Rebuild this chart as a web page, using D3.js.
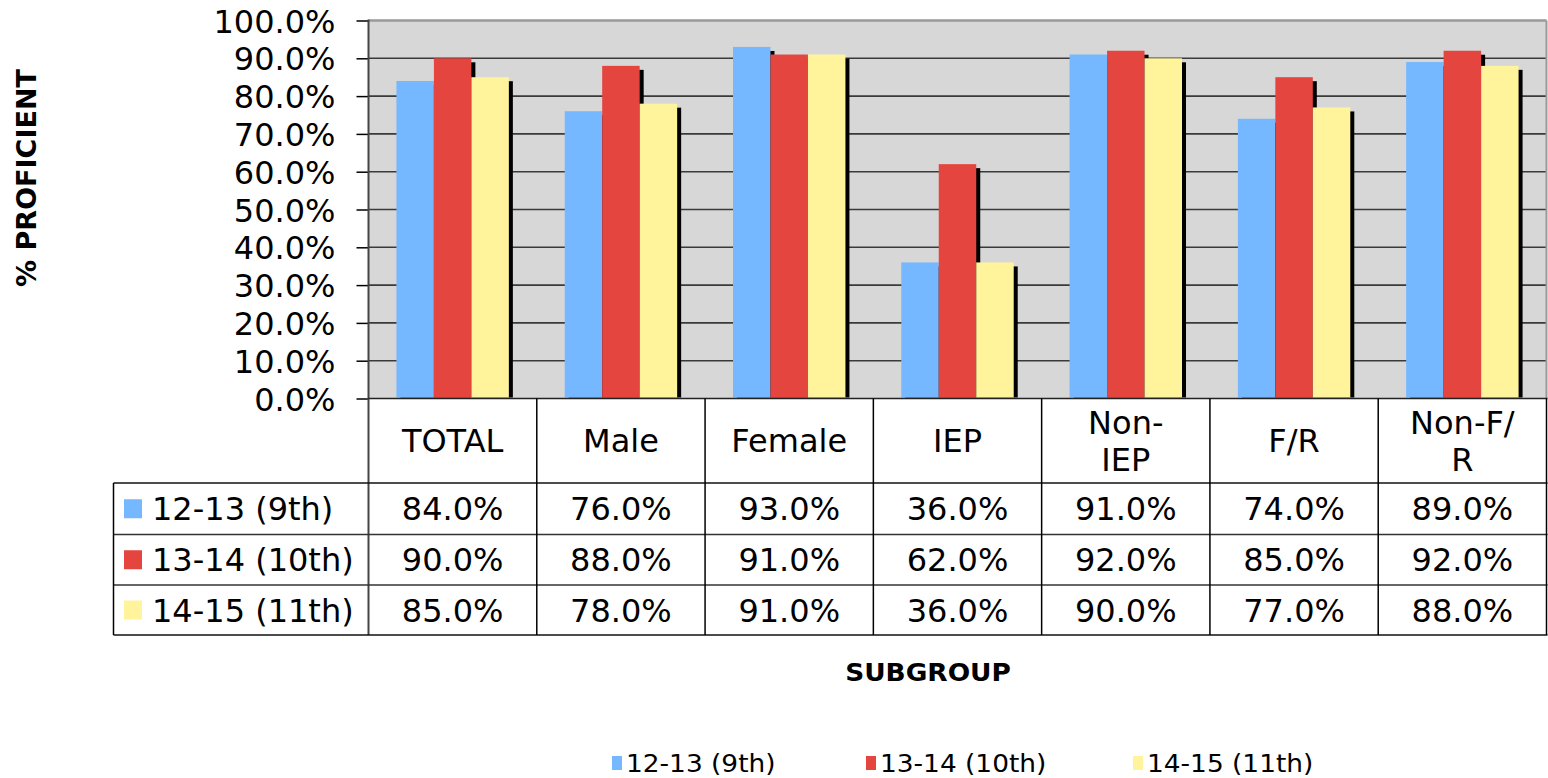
<!DOCTYPE html>
<html>
<head>
<meta charset="utf-8">
<script src="https://cdn.jsdelivr.net/npm/d3@7"></script>
<style>
  html, body { margin: 0; padding: 0; background: #fff; }
  svg { display: block; font-family: "DejaVu Sans", Verdana, sans-serif; }
</style>
</head>
<body>
<svg id="chart" width="1548" height="778"></svg>
<script>
// ---- data ----
const categories = ["TOTAL", "Male", "Female", "IEP", "Non-IEP", "F/R", "Non-F/R"];
const categoryLabelLines = [["TOTAL"], ["Male"], ["Female"], ["IEP"], ["Non-", "IEP"], ["F/R"], ["Non-F/", "R"]];
const seriesNames = ["12-13 (9th)", "13-14 (10th)", "14-15 (11th)"];
const series1213 = [84.0, 76.0, 93.0, 36.0, 91.0, 74.0, 89.0];
const series1314 = [90.0, 88.0, 91.0, 62.0, 92.0, 85.0, 92.0];
const series1415 = [85.0, 78.0, 91.0, 36.0, 90.0, 77.0, 88.0];
const yTickValues = [0, 10, 20, 30, 40, 50, 60, 70, 80, 90, 100];
const seriesColors = ["#76B8FF", "#E5453F", "#FFF39C"];
const yAxisTitle = "% PROFICIENT";
const xAxisTitle = "SUBGROUP";

const seriesValues = [series1213, series1314, series1415];

// ---- layout ----
const svg = d3.select("#chart");
const plotL = 368.5, plotR = 1546.5, plotT = 20.5, plotB = 398.5;
const tableL = 113.5;
const rowBounds = [398.5, 483, 534.5, 585, 635];
const tableFont = 32;

const x0 = d3.scaleBand().domain(categories).range([plotL, plotR]).paddingInner(0).paddingOuter(0);
const x1 = d3.scaleBand().domain(seriesNames).range([0, x0.bandwidth()]).paddingInner(0).paddingOuter(0.745);
const y = d3.scaleLinear().domain([0, 100]).range([plotB, plotT]);
const fmt = v => v.toFixed(1) + "%";

// plot background
svg.append("rect").attr("x", plotL).attr("y", plotT).attr("width", plotR - plotL).attr("height", plotB - plotT)
  .attr("fill", "#D7D7D7");

// gridlines
svg.append("g").selectAll("line").data(yTickValues.filter(v => v > 0 && v < 100)).join("line")
  .attr("x1", plotL).attr("x2", plotR).attr("y1", d => y(d)).attr("y2", d => y(d))
  .attr("stroke", "#3a3a3a").attr("stroke-width", 1.6);

// plot border top/right
svg.append("line").attr("x1", plotL).attr("x2", plotR).attr("y1", y(100)).attr("y2", y(100))
  .attr("stroke", "#999").attr("stroke-width", 2.5);
svg.append("line").attr("x1", plotR).attr("x2", plotR).attr("y1", plotT).attr("y2", plotB)
  .attr("stroke", "#999").attr("stroke-width", 2);

// clip for shadows
svg.append("clipPath").attr("id", "plotclip").append("rect")
  .attr("x", plotL).attr("y", plotT - 2).attr("width", plotR - plotL).attr("height", plotB - plotT + 1);

// bars with shadows
const barsG = svg.append("g").attr("clip-path", "url(#plotclip)");
categories.forEach((cat, ci) => {
  seriesNames.forEach((s, si) => {
    const v = seriesValues[si][ci];
    const bx = x0(cat) + x1(s);
    const bw = x1.bandwidth();
    barsG.append("rect").attr("x", bx + 4).attr("y", y(v) + 4).attr("width", bw).attr("height", plotB - y(v))
      .attr("fill", "#000");
    barsG.append("rect").attr("x", bx).attr("y", y(v)).attr("width", bw).attr("height", plotB - y(v))
      .attr("fill", seriesColors[si]);
  });
});

// y axis
const yAxis = d3.axisLeft(y).tickValues(yTickValues).tickFormat(fmt).tickSize(12).tickPadding(21);
const yg = svg.append("g").attr("transform", `translate(${plotL},0)`).call(yAxis);
yg.select(".domain").remove();
yg.selectAll(".tick line").attr("stroke", "#000").attr("stroke-width", 1.5);
yg.selectAll(".tick text").attr("font-size", 32).attr("fill", "#000")
  .attr("font-family", "DejaVu Sans, Verdana, sans-serif").attr("dy", "0.36em");

// y axis line (through table)
svg.append("line").attr("x1", plotL).attr("x2", plotL).attr("y1", plotT - 1).attr("y2", rowBounds[4])
  .attr("stroke", "#444").attr("stroke-width", 2);

// ---- data table ----
const tg = svg.append("g");
tg.append("line").attr("x1", plotL).attr("x2", plotR + 1).attr("y1", plotB).attr("y2", plotB)
  .attr("stroke", "#222").attr("stroke-width", 1.5);
[1, 2, 3, 4].forEach(i => {
  tg.append("line").attr("x1", tableL).attr("x2", plotR + 1).attr("y1", rowBounds[i]).attr("y2", rowBounds[i])
    .attr("stroke", i === 1 || i === 4 ? "#111" : "#333").attr("stroke-width", 1.5);
});
categories.forEach((cat, ci) => {
  if (ci === 0) return;
  tg.append("line").attr("x1", x0(cat)).attr("x2", x0(cat)).attr("y1", plotB).attr("y2", rowBounds[4])
    .attr("stroke", "#000").attr("stroke-width", 1.5);
});
tg.append("line").attr("x1", plotR).attr("x2", plotR).attr("y1", plotB).attr("y2", rowBounds[4])
  .attr("stroke", "#000").attr("stroke-width", 1.5);
tg.append("line").attr("x1", tableL).attr("x2", tableL).attr("y1", rowBounds[1]).attr("y2", rowBounds[4])
  .attr("stroke", "#000").attr("stroke-width", 1.5);

// category labels
categories.forEach((cat, ci) => {
  const lines = categoryLabelLines[ci];
  const cx = x0(cat) + x0.bandwidth() / 2;
  const cy = (rowBounds[0] + rowBounds[1]) / 2;
  const lh = 37;
  lines.forEach((ln, li) => {
    tg.append("text").attr("x", cx).attr("y", cy + (li - (lines.length - 1) / 2) * lh)
      .attr("dy", "0.36em").attr("text-anchor", "middle").attr("font-size", tableFont).attr("fill", "#000").text(ln);
  });
});

// value rows
seriesNames.forEach((s, si) => {
  const cy = (rowBounds[si + 1] + rowBounds[si + 2]) / 2;
  tg.append("rect").attr("x", 124).attr("y", cy - 9.5).attr("width", 18).attr("height", 19).attr("fill", seriesColors[si]);
  tg.append("text").attr("x", 152).attr("y", cy).attr("dy", "0.36em").attr("font-size", tableFont).attr("fill", "#000").text(s);
  categories.forEach((cat, ci) => {
    tg.append("text").attr("x", x0(cat) + x0.bandwidth() / 2).attr("y", cy).attr("dy", "0.36em")
      .attr("text-anchor", "middle").attr("font-size", tableFont).attr("fill", "#000").text(fmt(seriesValues[si][ci]));
  });
});

// axis titles
svg.append("text").attr("transform", "translate(928,681) scale(1.1,1)")
  .attr("text-anchor", "middle").attr("font-size", 24).attr("font-weight", "bold").attr("fill", "#000").text(xAxisTitle);
svg.append("text").attr("transform", "translate(36,178) rotate(-90)")
  .attr("text-anchor", "middle").attr("font-size", 27).attr("font-weight", "bold").attr("fill", "#000").text(yAxisTitle);

// bottom legend
const legendX = [612, 866, 1133];
const lg = svg.append("g");
seriesNames.forEach((s, si) => {
  lg.append("rect").attr("x", legendX[si]).attr("y", 756).attr("width", 10).attr("height", 14).attr("fill", seriesColors[si]);
  lg.append("text").attr("transform", `translate(${legendX[si] + 14},772) scale(1.1,1)`)
    .attr("font-size", 24).attr("fill", "#000").text(s);
});
</script>
</body>
</html>
